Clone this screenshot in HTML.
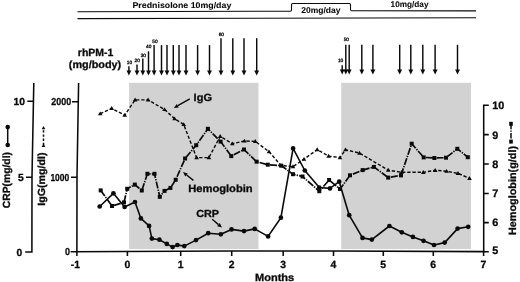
<!DOCTYPE html>
<html lang="en"><head><meta charset="utf-8"><title>Clinical course</title>
<style>html,body{margin:0;padding:0;background:#fff;}body{width:520px;height:282px;overflow:hidden;}svg{display:block;}text{font-family:"Liberation Sans", Arial, Helvetica, sans-serif;font-weight:bold;fill:#0a0a0a;stroke:#0a0a0a;stroke-width:0.3px;text-rendering:geometricPrecision;}</style>
</head><body>
<svg width="520" height="282" viewBox="0 0 520 282">
<rect width="520" height="282" fill="#fff"/>
<rect x="129.1" y="82.8" width="129.4" height="166.3" fill="#d2d2d2"/>
<rect x="341.2" y="82.8" width="129.8" height="166.3" fill="#d2d2d2"/>
<g fill="none" stroke="#0a0a0a" stroke-width="1.1">
<path d="M77.5 11.8 L290.3 11.2 Q291.5 11.2 291.5 10 L291.5 4.7 Q291.5 3.5 292.7 3.5 L349.3 3.5 Q350.5 3.5 350.5 4.7 L350.5 9.6 Q350.5 10.8 351.7 10.8 L476 10.9"/>
<path d="M77.5 18.6 L476 17.8"/>
</g>
<text style="stroke-width:0.08px" x="132.5" y="8.1" font-size="8.2" textLength="98.8" lengthAdjust="spacingAndGlyphs">Prednisolone 10mg/day</text>
<text style="stroke-width:0.08px" x="301.3" y="13" font-size="8.4" textLength="39.2" lengthAdjust="spacingAndGlyphs">20mg/day</text>
<text style="stroke-width:0.08px" x="390.6" y="7.3" font-size="8.2" textLength="37.9" lengthAdjust="spacingAndGlyphs">10mg/day</text>
<text x="77.8" y="56.3" font-size="10.5" textLength="35.6" lengthAdjust="spacingAndGlyphs">rhPM-1</text>
<text x="68.8" y="68" font-size="10.5" textLength="52.4" lengthAdjust="spacingAndGlyphs">(mg/body)</text>
<path d="M128.9 66.3 V72.5" stroke="#0a0a0a" stroke-width="1.45" fill="none"/><path d="M126.5 70.6 L131.3 70.6 L128.9 75.5 Z" fill="#0a0a0a"/>
<path d="M137.0 64.6 V72.5" stroke="#0a0a0a" stroke-width="1.45" fill="none"/><path d="M134.6 70.6 L139.4 70.6 L137.0 75.5 Z" fill="#0a0a0a"/>
<path d="M142.8 58.4 V72.5" stroke="#0a0a0a" stroke-width="1.45" fill="none"/><path d="M140.4 70.6 L145.2 70.6 L142.8 75.5 Z" fill="#0a0a0a"/>
<path d="M148.5 51.3 V72.5" stroke="#0a0a0a" stroke-width="1.45" fill="none"/><path d="M146.1 70.6 L150.9 70.6 L148.5 75.5 Z" fill="#0a0a0a"/>
<path d="M154.1 45.1 V72.5" stroke="#0a0a0a" stroke-width="1.45" fill="none"/><path d="M151.7 70.6 L156.5 70.6 L154.1 75.5 Z" fill="#0a0a0a"/>
<path d="M161.5 45.1 V72.5" stroke="#0a0a0a" stroke-width="1.45" fill="none"/><path d="M159.1 70.6 L163.9 70.6 L161.5 75.5 Z" fill="#0a0a0a"/>
<path d="M167.0 45.1 V72.5" stroke="#0a0a0a" stroke-width="1.45" fill="none"/><path d="M164.6 70.6 L169.4 70.6 L167.0 75.5 Z" fill="#0a0a0a"/>
<path d="M173.3 45.1 V72.5" stroke="#0a0a0a" stroke-width="1.45" fill="none"/><path d="M170.9 70.6 L175.8 70.6 L173.3 75.5 Z" fill="#0a0a0a"/>
<path d="M179.0 45.1 V72.5" stroke="#0a0a0a" stroke-width="1.45" fill="none"/><path d="M176.6 70.6 L181.4 70.6 L179.0 75.5 Z" fill="#0a0a0a"/>
<path d="M186.0 45.1 V72.5" stroke="#0a0a0a" stroke-width="1.45" fill="none"/><path d="M183.6 70.6 L188.4 70.6 L186.0 75.5 Z" fill="#0a0a0a"/>
<path d="M197.6 45.1 V72.5" stroke="#0a0a0a" stroke-width="1.45" fill="none"/><path d="M195.2 70.6 L200.0 70.6 L197.6 75.5 Z" fill="#0a0a0a"/>
<path d="M209.5 45.1 V72.5" stroke="#0a0a0a" stroke-width="1.45" fill="none"/><path d="M207.1 70.6 L211.9 70.6 L209.5 75.5 Z" fill="#0a0a0a"/>
<path d="M221.0 38.2 V72.5" stroke="#0a0a0a" stroke-width="1.45" fill="none"/><path d="M218.6 70.6 L223.4 70.6 L221.0 75.5 Z" fill="#0a0a0a"/>
<path d="M232.8 38.2 V72.5" stroke="#0a0a0a" stroke-width="1.45" fill="none"/><path d="M230.4 70.6 L235.2 70.6 L232.8 75.5 Z" fill="#0a0a0a"/>
<path d="M244.0 38.2 V72.5" stroke="#0a0a0a" stroke-width="1.45" fill="none"/><path d="M241.6 70.6 L246.4 70.6 L244.0 75.5 Z" fill="#0a0a0a"/>
<path d="M256.7 38.2 V72.5" stroke="#0a0a0a" stroke-width="1.45" fill="none"/><path d="M254.2 70.6 L259.1 70.6 L256.7 75.5 Z" fill="#0a0a0a"/>
<path d="M342.2 65.3 V71.4" stroke="#0a0a0a" stroke-width="1.45" fill="none"/><path d="M339.8 69.5 L344.6 69.5 L342.2 74.4 Z" fill="#0a0a0a"/>
<path d="M345.8 44.8 V71.4" stroke="#0a0a0a" stroke-width="1.45" fill="none"/><path d="M343.4 69.5 L348.2 69.5 L345.8 74.4 Z" fill="#0a0a0a"/>
<path d="M349.2 44.8 V71.4" stroke="#0a0a0a" stroke-width="1.45" fill="none"/><path d="M346.8 69.5 L351.6 69.5 L349.2 74.4 Z" fill="#0a0a0a"/>
<path d="M361.8 44.8 V71.4" stroke="#0a0a0a" stroke-width="1.45" fill="none"/><path d="M359.4 69.5 L364.2 69.5 L361.8 74.4 Z" fill="#0a0a0a"/>
<path d="M372.9 44.8 V71.4" stroke="#0a0a0a" stroke-width="1.45" fill="none"/><path d="M370.4 69.5 L375.3 69.5 L372.9 74.4 Z" fill="#0a0a0a"/>
<path d="M399.7 44.8 V71.4" stroke="#0a0a0a" stroke-width="1.45" fill="none"/><path d="M397.2 69.5 L402.1 69.5 L399.7 74.4 Z" fill="#0a0a0a"/>
<path d="M410.8 44.8 V71.4" stroke="#0a0a0a" stroke-width="1.45" fill="none"/><path d="M408.4 69.5 L413.2 69.5 L410.8 74.4 Z" fill="#0a0a0a"/>
<path d="M422.8 44.8 V71.4" stroke="#0a0a0a" stroke-width="1.45" fill="none"/><path d="M420.4 69.5 L425.2 69.5 L422.8 74.4 Z" fill="#0a0a0a"/>
<path d="M435.1 44.8 V71.4" stroke="#0a0a0a" stroke-width="1.45" fill="none"/><path d="M432.7 69.5 L437.6 69.5 L435.1 74.4 Z" fill="#0a0a0a"/>
<path d="M457.5 44.8 V71.4" stroke="#0a0a0a" stroke-width="1.45" fill="none"/><path d="M455.1 69.5 L459.9 69.5 L457.5 74.4 Z" fill="#0a0a0a"/>
<text x="129.5" y="64.2" font-size="4.8" text-anchor="middle" style="font-weight:normal;stroke:#0a0a0a;stroke-width:0.3">10</text>
<text x="137.2" y="62.4" font-size="4.8" text-anchor="middle" style="font-weight:normal;stroke:#0a0a0a;stroke-width:0.3">20</text>
<text x="143.3" y="56.7" font-size="4.8" text-anchor="middle" style="font-weight:normal;stroke:#0a0a0a;stroke-width:0.3">30</text>
<text x="148.7" y="47.8" font-size="4.8" text-anchor="middle" style="font-weight:normal;stroke:#0a0a0a;stroke-width:0.3">40</text>
<text x="155.0" y="42.5" font-size="4.8" text-anchor="middle" style="font-weight:normal;stroke:#0a0a0a;stroke-width:0.3">50</text>
<text x="221.3" y="35.6" font-size="4.8" text-anchor="middle" style="font-weight:normal;stroke:#0a0a0a;stroke-width:0.3">60</text>
<text x="340.6" y="61.7" font-size="4.8" text-anchor="middle" style="font-weight:normal;stroke:#0a0a0a;stroke-width:0.3">10</text>
<text x="346.3" y="41.4" font-size="4.8" text-anchor="middle" style="font-weight:normal;stroke:#0a0a0a;stroke-width:0.3">50</text>
<g fill="none" stroke="#0a0a0a" stroke-width="1.55">
<path d="M33.8 83 L32 177 L31.9 252 H25.2"/>
<path d="M27.3 101.3 H33.5 M26 177.2 H32.2"/>
<path d="M78.6 83 L77 177 L76.9 251.8"/>
<path d="M70.6 251.7 L230 250.9 L335 250.9 L484.3 251.6"/>
<path d="M72 101.8 H78.3 M71 177.3 H77"/>
<path d="M483.7 104.6 V251.8"/>
<path d="M483.7 105.2 H488.8 M483.7 134.6 H488.8 M483.7 164.0 H488.8 M483.7 193.4 H488.8 M483.7 222.6 H488.8 M483.7 251.8 H488.8"/>
<path d="M76.9 251 V256.1 M127.4 251 V256.1 M180.7 251 V256.1 M231.7 251 V256.1 M283.2 251 V256.1 M333.5 251 V256.1 M383.3 251 V256.1 M433.3 251 V256.1 M483.6 251 V256.1"/>
</g>
<text x="25" y="105.2" font-size="10.3" text-anchor="end">10</text>
<text x="23.8" y="181" font-size="10.3" text-anchor="end">5</text>
<text x="22.3" y="255.5" font-size="10.3" text-anchor="end">0</text>
<text x="51.3" y="105" font-size="10.1" textLength="19.8" lengthAdjust="spacingAndGlyphs">2000</text>
<text x="50.4" y="180.7" font-size="10.1" textLength="18.8" lengthAdjust="spacingAndGlyphs">1000</text>
<text x="64.9" y="255.2" font-size="10.1" textLength="5" lengthAdjust="spacingAndGlyphs">0</text>
<text x="492.3" y="108.7" font-size="10.8">10</text>
<text x="492.3" y="138.5" font-size="10.8">9</text>
<text x="492.3" y="167.8" font-size="10.8">8</text>
<text x="492.3" y="197.1" font-size="10.8">7</text>
<text x="492.3" y="226.4" font-size="10.8">6</text>
<text x="492.3" y="253.6" font-size="10.8">5</text>
<text x="75.3" y="267.6" font-size="10.4" text-anchor="middle">-1</text>
<text x="127.3" y="267.6" font-size="10.4" text-anchor="middle">0</text>
<text x="180.6" y="267.6" font-size="10.4" text-anchor="middle">1</text>
<text x="231.6" y="267.6" font-size="10.4" text-anchor="middle">2</text>
<text x="283.1" y="267.6" font-size="10.4" text-anchor="middle">3</text>
<text x="333.4" y="267.6" font-size="10.4" text-anchor="middle">4</text>
<text x="383.2" y="267.6" font-size="10.4" text-anchor="middle">5</text>
<text x="433.2" y="267.6" font-size="10.4" text-anchor="middle">6</text>
<text x="483.5" y="267.6" font-size="10.4" text-anchor="middle">7</text>
<text x="255" y="280.6" font-size="10.5" textLength="39.2" lengthAdjust="spacingAndGlyphs">Months</text>
<text transform="translate(10.4 208.3) rotate(-90)" font-size="10.4" textLength="56.3" lengthAdjust="spacingAndGlyphs">CRP(mg/dl)</text>
<text transform="translate(45.3 205.8) rotate(-90)" font-size="10.4" textLength="53.4" lengthAdjust="spacingAndGlyphs">IgG(mg/dl)</text>
<text transform="translate(516.2 235) rotate(-90)" font-size="10.5" textLength="89" lengthAdjust="spacingAndGlyphs">Hemoglobin(g/dl)</text>
<path d="M7.7 127.5 V144.9" stroke="#0a0a0a" stroke-width="1.5" fill="none"/>
<circle cx="7.7" cy="127.1" r="2.3" fill="#0a0a0a"/><circle cx="7.7" cy="145" r="2.3" fill="#0a0a0a"/>
<path d="M43.5 130.2 V145.2" stroke="#0a0a0a" stroke-width="1.5" stroke-dasharray="2.3 1.9" fill="none"/>
<path d="M41.7 129.2 L45.3 129.2 L43.5 125.9 Z" fill="#0a0a0a"/>
<path d="M41.7 146.9 L45.3 146.9 L43.5 143.6 Z" fill="#0a0a0a"/>
<path d="M511 123.7 V141.5" stroke="#0a0a0a" stroke-width="1.5" stroke-dasharray="5.5 1.3 1.3 1.3" fill="none"/>
<rect x="509.2" y="121.8" width="3.6" height="4" fill="#0a0a0a"/><rect x="509.2" y="139.6" width="3.6" height="4" fill="#0a0a0a"/>
<polyline points="100.2,113.7 111.7,108.4 124.7,115.2 135.1,99.9 148.1,99.9 164.5,109.5 174.6,118.7 183.7,124.5 196.6,157.6 208.9,157.6 220.2,136.3 232.3,143.7 244.5,141.0 255.3,141.4 269.0,151.7 281.0,165.5 293.0,166.6 304.0,159.2 317.2,149.6 328.6,156.1 340.0,157.6 345.5,149.7 359.5,153.1 388.2,170.1 401.5,172.3 423.3,172.3 435.2,170.3 446.6,171.2 458.0,173.4 469.5,178.3" fill="none" stroke="#0a0a0a" stroke-width="1.4" stroke-dasharray="3.3 1.9"/>
<polyline points="100.7,190.4 112.0,206.0 124.0,202.4 127.2,188.8 134.8,184.6 141.8,190.5 147.4,173.8 154.5,173.8 159.8,196.8 164.5,190.9 170.4,187.9 175.7,179.8 185.1,158.5 196.2,145.2 207.9,128.8 220.6,141.6 231.3,156.1 244.0,149.5 256.6,161.7 267.8,164.7 281.3,165.7 293.0,174.2 302.5,176.5 319.3,191.2 329.1,180.0 340.0,189.0 350.0,175.3 362.7,170.1 373.9,166.9 388.2,177.6 401.0,175.4 411.7,143.7 423.7,157.4 434.4,158.0 446.0,157.7 457.3,148.8 467.8,157.2" fill="none" stroke="#0a0a0a" stroke-width="1.7" stroke-dasharray="7 1.2 1.3 1.2"/>
<polyline points="99.7,206.5 113.4,193.3 124.6,207.0 135.0,202.0 140.9,218.4 149.1,225.9 151.9,238.6 159.4,239.7 166.8,243.9 172.6,247.1 177.4,245.0 184.3,246.1 196.0,240.1 208.2,233.2 220.8,234.3 231.5,229.4 244.0,231.1 254.7,228.9 268.1,236.4 280.9,217.7 293.1,148.4 304.8,170.5 319.3,187.5 330.0,188.4 339.2,181.7 349.2,215.2 362.5,237.9 371.8,239.6 389.4,226.0 401.8,232.3 412.9,236.9 423.5,240.8 434.0,245.0 444.7,242.6 457.6,228.6 468.2,226.8" fill="none" stroke="#0a0a0a" stroke-width="1.6" stroke-linejoin="round"/>
<path d="M97.9 115.3 L102.5 115.3 L100.2 111.4 Z" fill="#0a0a0a"/>
<path d="M109.4 110.0 L114.0 110.0 L111.7 106.1 Z" fill="#0a0a0a"/>
<path d="M122.4 116.8 L127.0 116.8 L124.7 112.9 Z" fill="#0a0a0a"/>
<path d="M132.8 101.5 L137.4 101.5 L135.1 97.6 Z" fill="#0a0a0a"/>
<path d="M145.8 101.5 L150.4 101.5 L148.1 97.6 Z" fill="#0a0a0a"/>
<path d="M162.2 111.1 L166.8 111.1 L164.5 107.2 Z" fill="#0a0a0a"/>
<path d="M172.3 120.3 L176.9 120.3 L174.6 116.4 Z" fill="#0a0a0a"/>
<path d="M181.4 126.1 L186.0 126.1 L183.7 122.2 Z" fill="#0a0a0a"/>
<path d="M194.3 159.2 L198.9 159.2 L196.6 155.3 Z" fill="#0a0a0a"/>
<path d="M206.6 159.2 L211.2 159.2 L208.9 155.3 Z" fill="#0a0a0a"/>
<path d="M217.9 137.9 L222.5 137.9 L220.2 134.0 Z" fill="#0a0a0a"/>
<path d="M230.0 145.3 L234.6 145.3 L232.3 141.4 Z" fill="#0a0a0a"/>
<path d="M242.2 142.6 L246.8 142.6 L244.5 138.7 Z" fill="#0a0a0a"/>
<path d="M253.0 143.0 L257.6 143.0 L255.3 139.1 Z" fill="#0a0a0a"/>
<path d="M266.7 153.3 L271.3 153.3 L269.0 149.4 Z" fill="#0a0a0a"/>
<path d="M278.7 167.1 L283.3 167.1 L281.0 163.2 Z" fill="#0a0a0a"/>
<path d="M290.7 168.2 L295.3 168.2 L293.0 164.3 Z" fill="#0a0a0a"/>
<path d="M301.7 160.8 L306.3 160.8 L304.0 156.9 Z" fill="#0a0a0a"/>
<path d="M314.9 151.2 L319.5 151.2 L317.2 147.3 Z" fill="#0a0a0a"/>
<path d="M326.3 157.7 L330.9 157.7 L328.6 153.8 Z" fill="#0a0a0a"/>
<path d="M337.7 159.2 L342.3 159.2 L340.0 155.3 Z" fill="#0a0a0a"/>
<path d="M343.2 151.3 L347.8 151.3 L345.5 147.4 Z" fill="#0a0a0a"/>
<path d="M357.2 154.7 L361.8 154.7 L359.5 150.8 Z" fill="#0a0a0a"/>
<path d="M385.9 171.7 L390.5 171.7 L388.2 167.8 Z" fill="#0a0a0a"/>
<path d="M399.2 173.9 L403.8 173.9 L401.5 170.0 Z" fill="#0a0a0a"/>
<path d="M421.0 173.9 L425.6 173.9 L423.3 170.0 Z" fill="#0a0a0a"/>
<path d="M432.9 171.9 L437.5 171.9 L435.2 168.0 Z" fill="#0a0a0a"/>
<path d="M444.3 172.8 L448.9 172.8 L446.6 168.9 Z" fill="#0a0a0a"/>
<path d="M455.7 175.0 L460.3 175.0 L458.0 171.1 Z" fill="#0a0a0a"/>
<path d="M467.2 179.9 L471.8 179.9 L469.5 176.0 Z" fill="#0a0a0a"/>
<rect x="98.7" y="188.4" width="4" height="4" fill="#0a0a0a"/>
<rect x="110.0" y="204.0" width="4" height="4" fill="#0a0a0a"/>
<rect x="122.0" y="200.4" width="4" height="4" fill="#0a0a0a"/>
<rect x="125.2" y="186.8" width="4" height="4" fill="#0a0a0a"/>
<rect x="132.8" y="182.6" width="4" height="4" fill="#0a0a0a"/>
<rect x="139.8" y="188.5" width="4" height="4" fill="#0a0a0a"/>
<rect x="145.4" y="171.8" width="4" height="4" fill="#0a0a0a"/>
<rect x="152.5" y="171.8" width="4" height="4" fill="#0a0a0a"/>
<rect x="157.8" y="194.8" width="4" height="4" fill="#0a0a0a"/>
<rect x="162.5" y="188.9" width="4" height="4" fill="#0a0a0a"/>
<rect x="168.4" y="185.9" width="4" height="4" fill="#0a0a0a"/>
<rect x="173.7" y="177.8" width="4" height="4" fill="#0a0a0a"/>
<rect x="183.1" y="156.5" width="4" height="4" fill="#0a0a0a"/>
<rect x="194.2" y="143.2" width="4" height="4" fill="#0a0a0a"/>
<rect x="205.9" y="126.8" width="4" height="4" fill="#0a0a0a"/>
<rect x="218.6" y="139.6" width="4" height="4" fill="#0a0a0a"/>
<rect x="229.3" y="154.1" width="4" height="4" fill="#0a0a0a"/>
<rect x="242.0" y="147.5" width="4" height="4" fill="#0a0a0a"/>
<rect x="254.6" y="159.7" width="4" height="4" fill="#0a0a0a"/>
<rect x="265.8" y="162.7" width="4" height="4" fill="#0a0a0a"/>
<rect x="279.3" y="163.7" width="4" height="4" fill="#0a0a0a"/>
<rect x="291.0" y="172.2" width="4" height="4" fill="#0a0a0a"/>
<rect x="300.5" y="174.5" width="4" height="4" fill="#0a0a0a"/>
<rect x="317.3" y="189.2" width="4" height="4" fill="#0a0a0a"/>
<rect x="327.1" y="178.0" width="4" height="4" fill="#0a0a0a"/>
<rect x="338.0" y="187.0" width="4" height="4" fill="#0a0a0a"/>
<rect x="348.0" y="173.3" width="4" height="4" fill="#0a0a0a"/>
<rect x="360.7" y="168.1" width="4" height="4" fill="#0a0a0a"/>
<rect x="371.9" y="164.9" width="4" height="4" fill="#0a0a0a"/>
<rect x="386.2" y="175.6" width="4" height="4" fill="#0a0a0a"/>
<rect x="399.0" y="173.4" width="4" height="4" fill="#0a0a0a"/>
<rect x="409.7" y="141.7" width="4" height="4" fill="#0a0a0a"/>
<rect x="421.7" y="155.4" width="4" height="4" fill="#0a0a0a"/>
<rect x="432.4" y="156.0" width="4" height="4" fill="#0a0a0a"/>
<rect x="444.0" y="155.7" width="4" height="4" fill="#0a0a0a"/>
<rect x="455.3" y="146.8" width="4" height="4" fill="#0a0a0a"/>
<rect x="465.8" y="155.2" width="4" height="4" fill="#0a0a0a"/>
<circle cx="99.7" cy="206.5" r="2.35" fill="#0a0a0a"/>
<circle cx="113.4" cy="193.3" r="2.35" fill="#0a0a0a"/>
<circle cx="124.6" cy="207.0" r="2.35" fill="#0a0a0a"/>
<circle cx="135.0" cy="202.0" r="2.35" fill="#0a0a0a"/>
<circle cx="140.9" cy="218.4" r="2.35" fill="#0a0a0a"/>
<circle cx="149.1" cy="225.9" r="2.35" fill="#0a0a0a"/>
<circle cx="151.9" cy="238.6" r="2.35" fill="#0a0a0a"/>
<circle cx="159.4" cy="239.7" r="2.35" fill="#0a0a0a"/>
<circle cx="166.8" cy="243.9" r="2.35" fill="#0a0a0a"/>
<circle cx="172.6" cy="247.1" r="2.35" fill="#0a0a0a"/>
<circle cx="177.4" cy="245.0" r="2.35" fill="#0a0a0a"/>
<circle cx="184.3" cy="246.1" r="2.35" fill="#0a0a0a"/>
<circle cx="196.0" cy="240.1" r="2.35" fill="#0a0a0a"/>
<circle cx="208.2" cy="233.2" r="2.35" fill="#0a0a0a"/>
<circle cx="220.8" cy="234.3" r="2.35" fill="#0a0a0a"/>
<circle cx="231.5" cy="229.4" r="2.35" fill="#0a0a0a"/>
<circle cx="244.0" cy="231.1" r="2.35" fill="#0a0a0a"/>
<circle cx="254.7" cy="228.9" r="2.35" fill="#0a0a0a"/>
<circle cx="268.1" cy="236.4" r="2.35" fill="#0a0a0a"/>
<circle cx="280.9" cy="217.7" r="2.35" fill="#0a0a0a"/>
<circle cx="293.1" cy="148.4" r="2.35" fill="#0a0a0a"/>
<circle cx="304.8" cy="170.5" r="2.35" fill="#0a0a0a"/>
<circle cx="319.3" cy="187.5" r="2.35" fill="#0a0a0a"/>
<circle cx="330.0" cy="188.4" r="2.35" fill="#0a0a0a"/>
<circle cx="339.2" cy="181.7" r="2.35" fill="#0a0a0a"/>
<circle cx="349.2" cy="215.2" r="2.35" fill="#0a0a0a"/>
<circle cx="362.5" cy="237.9" r="2.35" fill="#0a0a0a"/>
<circle cx="371.8" cy="239.6" r="2.35" fill="#0a0a0a"/>
<circle cx="389.4" cy="226.0" r="2.35" fill="#0a0a0a"/>
<circle cx="401.8" cy="232.3" r="2.35" fill="#0a0a0a"/>
<circle cx="412.9" cy="236.9" r="2.35" fill="#0a0a0a"/>
<circle cx="423.5" cy="240.8" r="2.35" fill="#0a0a0a"/>
<circle cx="434.0" cy="245.0" r="2.35" fill="#0a0a0a"/>
<circle cx="444.7" cy="242.6" r="2.35" fill="#0a0a0a"/>
<circle cx="457.6" cy="228.6" r="2.35" fill="#0a0a0a"/>
<circle cx="468.2" cy="226.8" r="2.35" fill="#0a0a0a"/>
<text x="193.6" y="101.1" font-size="10.5" textLength="18.4" lengthAdjust="spacingAndGlyphs">IgG</text>
<path d="M189.8 98.8 L177.8 105.7" stroke="#0a0a0a" stroke-width="1.4" fill="none"/>
<path d="M173.8 108.0 L176.8 104.0 L178.8 107.4 Z" fill="#0a0a0a"/>
<text x="188.2" y="191.8" font-size="10.5" textLength="64.5" lengthAdjust="spacingAndGlyphs">Hemoglobin</text>
<path d="M193.4 180.4 L186.6 175.0" stroke="#0a0a0a" stroke-width="1.4" fill="none"/>
<path d="M183.0 172.1 L187.8 173.4 L185.3 176.5 Z" fill="#0a0a0a"/>
<text x="196.2" y="217.4" font-size="10.3" textLength="22.8" lengthAdjust="spacingAndGlyphs">CRP</text>
<path d="M212.2 219.3 L218.5 224.6" stroke="#0a0a0a" stroke-width="1.4" fill="none"/>
<path d="M222.0 227.6 L217.2 226.2 L219.8 223.1 Z" fill="#0a0a0a"/>
</svg>
</body></html>
